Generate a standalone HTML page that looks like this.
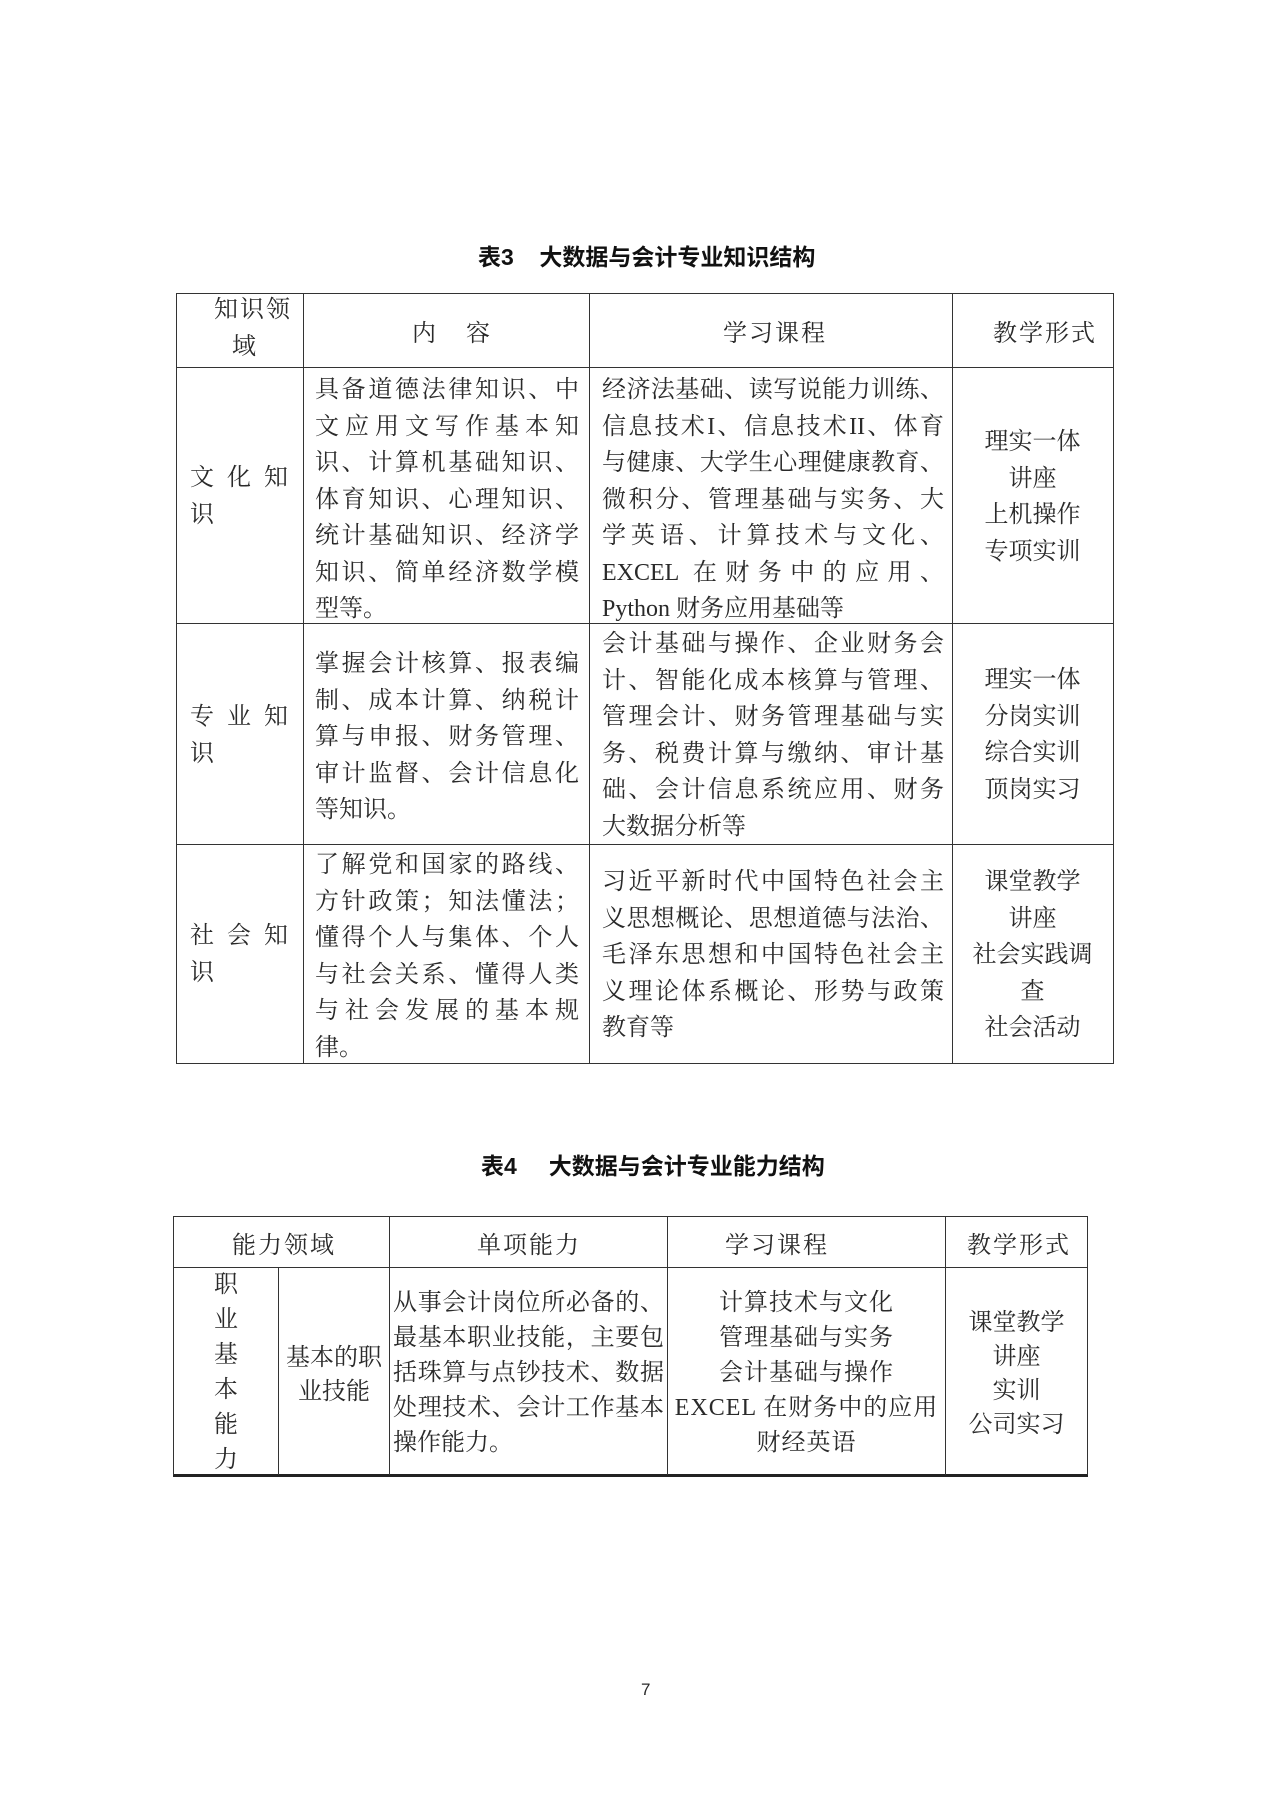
<!DOCTYPE html>
<html><head><meta charset="utf-8">
<style>
html,body{margin:0;padding:0;background:#fff;}
body{width:1279px;height:1809px;position:relative;overflow:hidden;font-family:"Liberation Serif","Noto Serif CJK SC",serif;color:#2a2a2a;}
.h{position:absolute;background:#333;height:1px;}
.v{position:absolute;background:#333;width:1px;}
.t{position:absolute;font-size:24px;white-space:nowrap;}
.b{position:absolute;font-size:24px;}
.b div{height:36.5px;line-height:36.5px;white-space:nowrap;}
.b div.j{text-align:justify;text-align-last:justify;}
.c{text-align:center;}
.ttl{position:absolute;font-family:"Liberation Sans","Noto Sans CJK SC",sans-serif;font-weight:bold;font-size:23px;white-space:pre;color:#111;}
</style></head><body>

<div class="ttl" style="left:478px;top:238px;">表3    大数据与会计专业知识结构</div>

<div class="h" style="left:176px;top:293px;width:938px;"></div>
<div class="h" style="left:176px;top:367px;width:938px;"></div>
<div class="h" style="left:176px;top:623px;width:938px;"></div>
<div class="h" style="left:176px;top:844px;width:938px;"></div>
<div class="h" style="left:176px;top:1063px;width:938px;"></div>
<div class="v" style="left:176px;top:293px;height:771px;"></div>
<div class="v" style="left:303px;top:293px;height:771px;"></div>
<div class="v" style="left:589px;top:293px;height:771px;"></div>
<div class="v" style="left:952px;top:293px;height:771px;"></div>
<div class="v" style="left:1113px;top:293px;height:771px;"></div>

<div class="b" style="left:214px;top:292px;width:76px;"><div class="j">知识领</div><div class="c" style="width:60px;">域</div></div>
<div class="t" style="left:412px;top:313px;">内&nbsp;&nbsp;&nbsp;&nbsp;&nbsp;容</div>
<div class="t" style="left:723px;top:313px;letter-spacing:2px;">学习课程</div>
<div class="t" style="left:993px;top:313px;letter-spacing:2px;">教学形式</div>

<div class="b" style="left:190px;top:460px;width:98px;"><div class="j">文化知</div><div>识</div></div>
<div class="b" style="left:315px;top:372px;width:264px;">
<div class="j">具备道德法律知识、中</div><div class="j">文应用文写作基本知</div><div class="j">识、计算机基础知识、</div><div class="j">体育知识、心理知识、</div><div class="j">统计基础知识、经济学</div><div class="j">知识、简单经济数学模</div><div>型等。</div></div>
<div class="b" style="left:602px;top:372px;width:342px;">
<div class="j">经济法基础、读写说能力训练、</div><div class="j">信息技术I、信息技术II、体育</div><div class="j">与健康、大学生心理健康教育、</div><div class="j">微积分、管理基础与实务、大</div><div class="j">学英语、计算技术与文化、</div><div class="j">EXCEL 在财务中的应用、</div><div>Python 财务应用基础等</div></div>
<div class="b c" style="left:952px;top:424px;width:161px;"><div>理实一体</div><div>讲座</div><div>上机操作</div><div>专项实训</div></div>

<div class="b" style="left:190px;top:699px;width:98px;"><div class="j">专业知</div><div>识</div></div>
<div class="b" style="left:315px;top:646px;width:264px;">
<div class="j">掌握会计核算、报表编</div><div class="j">制、成本计算、纳税计</div><div class="j">算与申报、财务管理、</div><div class="j">审计监督、会计信息化</div><div>等知识。</div></div>
<div class="b" style="left:602px;top:626px;width:342px;">
<div class="j">会计基础与操作、企业财务会</div><div class="j">计、智能化成本核算与管理、</div><div class="j">管理会计、财务管理基础与实</div><div class="j">务、税费计算与缴纳、审计基</div><div class="j">础、会计信息系统应用、财务</div><div>大数据分析等</div></div>
<div class="b c" style="left:952px;top:662px;width:161px;"><div>理实一体</div><div>分岗实训</div><div>综合实训</div><div>顶岗实习</div></div>

<div class="b" style="left:190px;top:918px;width:98px;"><div class="j">社会知</div><div>识</div></div>
<div class="b" style="left:315px;top:847px;width:264px;">
<div class="j">了解党和国家的路线、</div><div class="j">方针政策；知法懂法；</div><div class="j">懂得个人与集体、个人</div><div class="j">与社会关系、懂得人类</div><div class="j">与社会发展的基本规</div><div>律。</div></div>
<div class="b" style="left:602px;top:864px;width:342px;">
<div class="j">习近平新时代中国特色社会主</div><div class="j">义思想概论、思想道德与法治、</div><div class="j">毛泽东思想和中国特色社会主</div><div class="j">义理论体系概论、形势与政策</div><div>教育等</div></div>
<div class="b c" style="left:952px;top:864px;width:161px;"><div>课堂教学</div><div>讲座</div><div>社会实践调</div><div>查</div><div>社会活动</div></div>

<div class="ttl" style="left:481px;top:1147px;">表4     大数据与会计专业能力结构</div>

<div class="h" style="left:173px;top:1216px;width:915px;"></div>
<div class="h" style="left:173px;top:1267px;width:915px;"></div>
<div class="h" style="left:173px;top:1474px;width:915px;height:3px;background:#222;"></div>
<div class="v" style="left:173px;top:1216px;height:259px;"></div>
<div class="v" style="left:278px;top:1267px;height:208px;"></div>
<div class="v" style="left:389px;top:1216px;height:259px;"></div>
<div class="v" style="left:667px;top:1216px;height:259px;"></div>
<div class="v" style="left:945px;top:1216px;height:259px;"></div>
<div class="v" style="left:1087px;top:1216px;height:259px;"></div>

<div class="t" style="left:232px;top:1225px;letter-spacing:2px;">能力领域</div>
<div class="t" style="left:477px;top:1225px;letter-spacing:2px;">单项能力</div>
<div class="t" style="left:725px;top:1225px;letter-spacing:2px;">学习课程</div>
<div class="t" style="left:967px;top:1225px;letter-spacing:2px;">教学形式</div>

<div class="b c" style="left:174px;top:1268px;width:104px;"><div style="height:35px;line-height:35px;">职</div><div style="height:35px;line-height:35px;">业</div><div style="height:35px;line-height:35px;">基</div><div style="height:35px;line-height:35px;">本</div><div style="height:35px;line-height:35px;">能</div><div style="height:35px;line-height:35px;">力</div></div>
<div class="b c" style="left:279px;top:1341px;width:110px;"><div style="height:34px;line-height:34px;">基本的职</div><div style="height:34px;line-height:34px;">业技能</div></div>
<div class="b" style="left:393px;top:1286px;width:271px;">
<div class="j" style="height:35px;line-height:35px;">从事会计岗位所必备的、</div><div class="j" style="height:35px;line-height:35px;">最基本职业技能，主要包</div><div class="j" style="height:35px;line-height:35px;">括珠算与点钞技术、数据</div><div class="j" style="height:35px;line-height:35px;">处理技术、会计工作基本</div><div style="height:35px;line-height:35px;">操作能力。</div></div>
<div class="b c" style="left:668px;top:1286px;width:277px;">
<div style="height:35px;line-height:35px;letter-spacing:1px;">计算技术与文化</div><div style="height:35px;line-height:35px;letter-spacing:1px;">管理基础与实务</div><div style="height:35px;line-height:35px;letter-spacing:1px;">会计基础与操作</div><div style="height:35px;line-height:35px;letter-spacing:1px;">EXCEL 在财务中的应用</div><div style="height:35px;line-height:35px;letter-spacing:1px;">财经英语</div></div>
<div class="b c" style="left:946px;top:1306px;width:141px;">
<div style="height:34px;line-height:34px;">课堂教学</div><div style="height:34px;line-height:34px;">讲座</div><div style="height:34px;line-height:34px;">实训</div><div style="height:34px;line-height:34px;">公司实习</div></div>

<div class="t" style="left:641px;top:1680px;font-size:17px;font-family:'Liberation Sans',sans-serif;">7</div>
</body></html>
